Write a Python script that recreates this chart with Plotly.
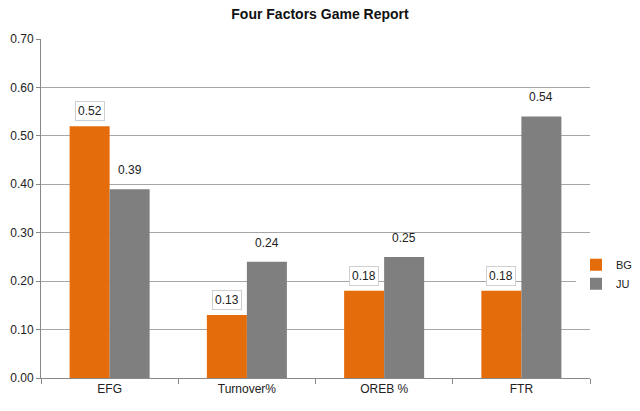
import plotly.graph_objects as go

categories = ["EFG", "Turnover%", "OREB %", "FTR"]
bg_values = [0.52, 0.13, 0.18, 0.18]
ju_values = [0.39, 0.24, 0.25, 0.54]
y_ticks = [0.0, 0.1, 0.2, 0.3, 0.4, 0.5, 0.6, 0.7]

orange = "#E46C0A"
gray = "#7F7F7F"
font = "Liberation Sans"

fig = go.Figure()
fig.add_trace(go.Bar(x=categories, y=bg_values, name="BG", marker_color=orange,
                     marker_line_width=0))
fig.add_trace(go.Bar(x=categories, y=ju_values, name="JU", marker_color=gray,
                     marker_line_width=0))

anns = []
for c, v in zip(categories, bg_values):
    # boxed label over the orange bars
    anns.append(dict(x=c, y=v, xref="x", yref="y", text="%.2f" % v, showarrow=False,
                     xshift=-20, yshift=5, yanchor="bottom",
                     font=dict(family=font, size=12, color="#222222"),
                     bgcolor="white", bordercolor="#CFCFCF", borderwidth=1,
                     borderpad=2))
for c, v in zip(categories, ju_values):
    anns.append(dict(x=c, y=v, xref="x", yref="y", text="%.2f" % v, showarrow=False,
                     xshift=20, yshift=10, yanchor="bottom",
                     font=dict(family=font, size=12, color="#222222")))

fig.update_layout(
    width=640, height=411,
    margin=dict(l=41, r=50, t=39, b=33, autoexpand=False),
    paper_bgcolor="white", plot_bgcolor="white",
    title=dict(text="<b>Four Factors Game Report</b>", x=0.5, xanchor="center",
               y=0.966, yanchor="middle",
               font=dict(family=font, size=14, color="#111111")),
    barmode="group", bargap=0.417, bargroupgap=0,
    font=dict(family=font, size=12, color="#222222"),
    legend=dict(xref="container", yref="container", x=0.9, xanchor="left",
                y=0.333, yanchor="middle", font=dict(size=11), itemwidth=30,
                tracegroupgap=6),
    annotations=anns,
    showlegend=True,
)
fig.update_xaxes(showline=True, linecolor="#888888", ticks="outside",
                 tickson="boundaries", tickcolor="#888888", ticklen=5,
                 showgrid=False, tickfont=dict(size=12), automargin=False)
fig.update_yaxes(range=[0, 0.7], tickvals=y_ticks, tickformat=".2f",
                 showline=True, linecolor="#888888", ticks="outside",
                 tickcolor="#888888", ticklen=4, gridcolor="#A6A6A6",
                 zeroline=False, tickfont=dict(size=12), automargin=False)

# drop the default page margin so the chart sits at the window's corner
fig.write_html("out.html", config={"displayModeBar": False},
               post_script="document.body.style.margin='0';")
